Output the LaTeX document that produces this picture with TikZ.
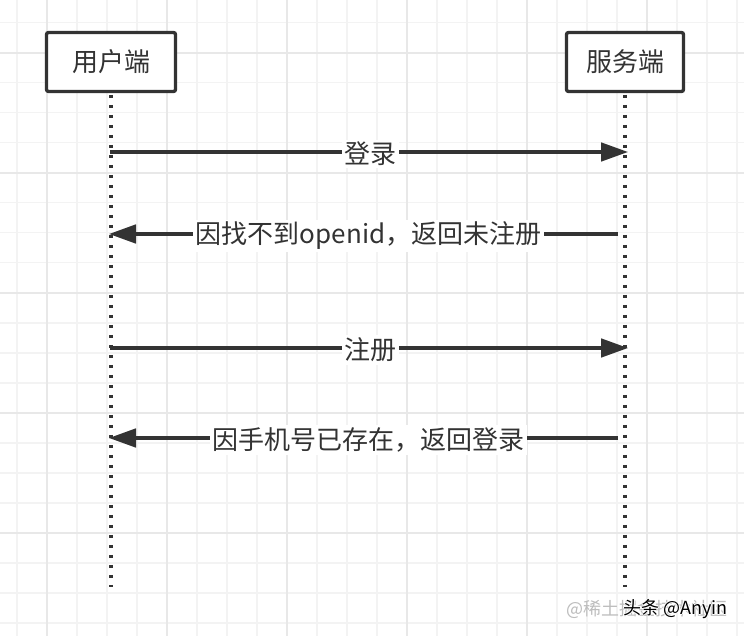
\documentclass[tikz,border=0pt]{standalone}
\usepackage{fontspec}
\setmainfont{Noto Sans CJK SC}
\usetikzlibrary{arrows.meta}
\definecolor{ink}{HTML}{333333}
\definecolor{gridminor}{HTML}{F3F3F3}
\definecolor{gridmajor}{HTML}{E8E8E8}
\definecolor{wmgray}{HTML}{BDBDBD}
\begin{document}
\begin{tikzpicture}[x=1pt,y=-1pt,
  actor/.style={draw=ink, line width=3.3pt, fill=white, rounded corners=2pt,
    minimum height=59pt, inner sep=0pt, text=ink, font=\fontsize{26}{30}\selectfont},
  lifeline/.style={draw=ink, line width=3.4pt, line cap=butt, dash pattern=on 3.6pt off 6.4pt},
  msg/.style={draw=ink, line width=3.2pt, -{Triangle[length=27pt,width=18.5pt]}},
  msglabel/.style={fill=white, inner sep=2.5pt, text=ink, font=\fontsize{26}{30}\selectfont, yshift=-2pt},
  gridmin/.style={draw=gridminor, line width=1.6pt},
  gridmaj/.style={draw=gridmajor, line width=2pt},
  wm/.style={inner sep=0pt, anchor=east, font=\fontsize{18}{20}\selectfont}
]
\useasboundingbox (0,0) rectangle (744,636);
\fill[white] (0,0) rectangle (744,636);
% grid
\foreach \gx in {16.7,46.7,...,740} {\draw[gridmin] (\gx,0) -- (\gx,636);}
\foreach \gy in {22.7,52.7,...,636} {\draw[gridmin] (0,\gy) -- (744,\gy);}
\foreach \gx in {46.7,166.7,...,740} {\draw[gridmaj] (\gx,0) -- (\gx,636);}
\foreach \gy in {52.7,172.7,...,636} {\draw[gridmaj] (0,\gy) -- (744,\gy);}

% actors
\node[actor, minimum width=129pt] (u) at (111,62) {用户端};
\node[actor, minimum width=117pt] (s) at (625,62) {服务端};

% lifeline ends
\coordinate (uend) at (111,587);
\coordinate (send) at (625,587);
\draw[lifeline] ([yshift=-1.65pt]u.south) -- (uend);
\draw[lifeline] ([yshift=-1.65pt]s.south) -- (send);

% message anchor points
\coordinate (m1a) at (110,152);   \coordinate (m1b) at (628,152);
\coordinate (m2a) at (618,234);   \coordinate (m2b) at (109,234);
\coordinate (m3a) at (110,348);   \coordinate (m3b) at (628,348);
\coordinate (m4a) at (618,438);   \coordinate (m4b) at (109,438);

\draw[msg] (m1a) -- node[msglabel, pos=0.502] (l1) {登录} (m1b);
\draw[msg] (m2a) -- node[msglabel, pos=0.49] (l2) {因找不到openid，返回未注册} (m2b);
\draw[msg] (m3a) -- node[msglabel, pos=0.502] (l3) {注册} (m3b);
\draw[msg] (m4a) -- node[msglabel, pos=0.49] (l4) {因手机号已存在，返回登录} (m4b);

% watermark
\node[wm, text=wmgray] (w1) at (728,609) {@稀土掘金技术社区};
\foreach \dx/\dy in {1.2/0,-1.2/0,0/1.2,0/-1.2}
  {\node[wm, text=white] at (728+\dx,609+\dy) {头条 @Anyin};}
\node[wm, text=black] (w2) at (728,609) {头条 @Anyin};
\end{tikzpicture}
\end{document}
